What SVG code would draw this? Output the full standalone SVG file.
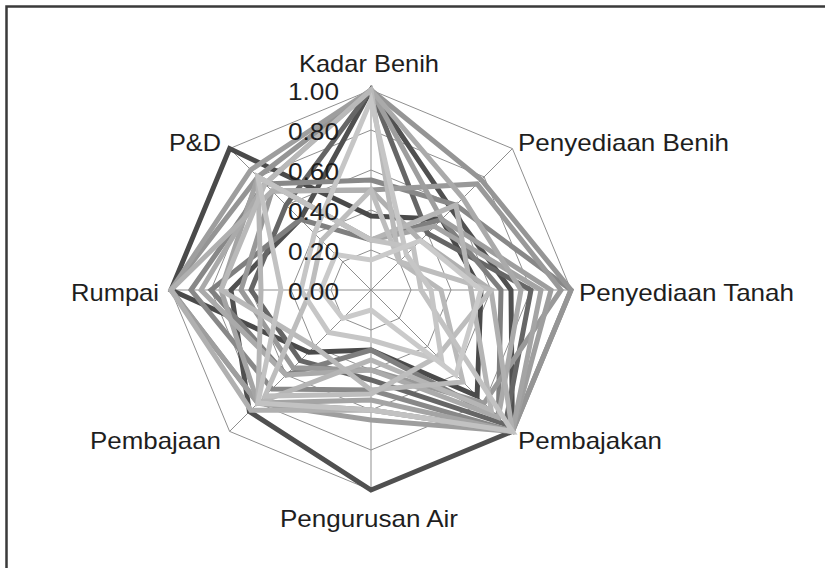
<svg xmlns="http://www.w3.org/2000/svg" width="825" height="568" viewBox="0 0 825 568">
<style>
.frame{stroke:#3a3a3a;stroke-width:2.5;fill:none}
.grid{fill:none;stroke:#8f8f8f;stroke-width:1}
.lbl{font-family:"Liberation Sans",Arial,sans-serif;font-size:24px;fill:#1e1e1e}
.tick{font-family:"Liberation Sans",Arial,sans-serif;font-size:24px;fill:#1e1e1e}
.s{fill:none;stroke-width:5;stroke-linejoin:miter}
</style>
<rect width="825" height="568" fill="#ffffff"/>
<path class="frame" d="M6.5,568 V6.5 H825"/>
<g id="grid">
<polygon class="grid" points="371,90 512.4,148.6 571,290 512.4,431.4 371,490 229.6,431.4 171,290 229.6,148.6"/>
<polygon class="grid" points="371,130 484.1,176.9 531,290 484.1,403.1 371,450 257.9,403.1 211,290 257.9,176.9"/>
<polygon class="grid" points="371,170 455.9,205.1 491,290 455.9,374.9 371,410 286.1,374.9 251,290 286.1,205.1"/>
<polygon class="grid" points="371,210 427.6,233.4 451,290 427.6,346.6 371,370 314.4,346.6 291,290 314.4,233.4"/>
<polygon class="grid" points="371,250 399.3,261.7 411,290 399.3,318.3 371,330 342.7,318.3 331,290 342.7,261.7"/>
<path class="grid" d="M371,290 L371,90 M371,290 L512.4,148.6 M371,290 L571,290 M371,290 L512.4,431.4 M371,290 L371,490 M371,290 L229.6,431.4 M371,290 L171,290 M371,290 L229.6,148.6"/>
</g>
<g id="series">
<polygon class="s" stroke="#4a4a4a" points="371,216 441.7,219.3 481,290 477.1,396.1 371,350 308.8,352.2 171,290 229.6,148.6"/>
<polygon class="s" stroke="#505050" points="371,90 451.6,209.4 511,290 512.4,431.4 371,490 249.4,411.6 231,290 300.3,219.3"/>
<polygon class="s" stroke="#666666" points="371,90 427.6,233.4 531,290 505.3,424.3 371,380 300.3,360.7 251,290 286.1,205.1"/>
<polygon class="s" stroke="#7f7f7f" points="371,240 441.7,219.3 501,290 498.3,417.3 371,350 286.1,374.9 211,290 300.3,219.3"/>
<polygon class="s" stroke="#888888" points="371,180 455.9,205.1 571,290 512.4,431.4 371,390 272,389 191,290 264.9,183.9"/>
<polygon class="s" stroke="#959595" points="371,90 481.3,179.7 571,290 512.4,431.4 371,410 257.9,403.1 171,290 257.9,176.9"/>
<polygon class="s" stroke="#999999" points="371,190 477.1,183.9 561,290 484.1,403.1 371,370 293.2,367.8 241,290 272,191"/>
<polygon class="s" stroke="#9e9e9e" points="371,90 441.7,219.3 551,290 512.4,431.4 371,420 257.9,403.1 171,290 250.8,169.8"/>
<polygon class="s" stroke="#a4a4a4" points="371,240 434.6,226.4 541,290 512.4,431.4 371,400 257.9,403.1 221,290 257.9,176.9"/>
<polygon class="s" stroke="#aaaaaa" points="371,90 462.9,198.1 521,290 498.3,417.3 371,370 286.1,374.9 201,290 264.9,183.9"/>
<polygon class="s" stroke="#b0b0b0" points="371,190 420.5,240.5 491,290 512.4,431.4 371,410 250.8,410.2 171,290 272,191"/>
<polygon class="s" stroke="#b5b5b5" points="371,240 455.9,205.1 471,290 491.2,410.2 371,360 257.9,403.1 261,290 257.9,176.9"/>
<polygon class="s" stroke="#b9b9b9" points="371,90 399.3,261.7 441,290 462.9,381.9 371,390 314.4,346.6 221,290 264.9,183.9"/>
<polygon class="s" stroke="#bdbdbd" points="371,190 399.3,261.7 491,290 437.5,356.5 371,394 264.9,396.1 311,290 321.5,240.5"/>
<polygon class="s" stroke="#c2c2c2" points="371,240 413.4,247.6 421,290 512.4,431.4 371,410 257.9,403.1 281,290 257.9,176.9"/>
<polygon class="s" stroke="#c6c6c6" points="371,100 406.4,254.6 431,290 441.7,360.7 371,340 328.6,332.4 301,290 314.4,233.4"/>
<polygon class="s" stroke="#cacaca" points="371,260 420.5,240.5 481,290 455.9,374.9 371,310 342.7,318.3 321,290 335.6,254.6"/>
</g>
<g id="ticks">
<text class="tick" x="288" y="100" textLength="51" lengthAdjust="spacingAndGlyphs">1.00</text>
<text class="tick" x="288" y="140" textLength="51" lengthAdjust="spacingAndGlyphs">0.80</text>
<text class="tick" x="288" y="180" textLength="51" lengthAdjust="spacingAndGlyphs">0.60</text>
<text class="tick" x="288" y="220" textLength="51" lengthAdjust="spacingAndGlyphs">0.40</text>
<text class="tick" x="288" y="260" textLength="51" lengthAdjust="spacingAndGlyphs">0.20</text>
<text class="tick" x="288" y="300" textLength="51" lengthAdjust="spacingAndGlyphs">0.00</text>
</g>
<g id="labels">
<text class="lbl" x="299" y="72" textLength="140" lengthAdjust="spacingAndGlyphs">Kadar Benih</text>
<text class="lbl" x="518" y="151" textLength="211" lengthAdjust="spacingAndGlyphs">Penyediaan Benih</text>
<text class="lbl" x="579" y="301" textLength="215" lengthAdjust="spacingAndGlyphs">Penyediaan Tanah</text>
<text class="lbl" x="518" y="449" textLength="144" lengthAdjust="spacingAndGlyphs">Pembajakan</text>
<text class="lbl" x="280" y="527" textLength="178" lengthAdjust="spacingAndGlyphs">Pengurusan Air</text>
<text class="lbl" x="90" y="449" textLength="131" lengthAdjust="spacingAndGlyphs">Pembajaan</text>
<text class="lbl" x="71" y="301" textLength="88" lengthAdjust="spacingAndGlyphs">Rumpai</text>
<text class="lbl" x="169" y="151" textLength="52" lengthAdjust="spacingAndGlyphs">P&amp;D</text>
</g>
</svg>
